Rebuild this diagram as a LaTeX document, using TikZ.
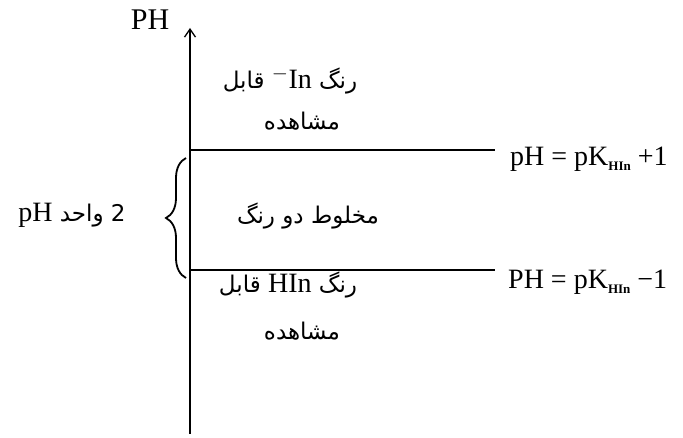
\documentclass[tikz,border=0pt]{standalone}
\usepackage{fontspec}
\setmainfont{Liberation Serif}
\newfontfamily\farsi[Script=Arabic]{DejaVu Sans}
\TeXXeTstate=1
\usetikzlibrary{arrows.meta,decorations.pathreplacing}

\newcommand{\lat}[1]{{\rmfamily\fontsize{28}{30}\selectfont #1}}
\newcommand{\hin}{\raisebox{-0.4ex}{\fontsize{13}{13}\selectfont\bfseries HIn}}

\begin{document}
\begin{tikzpicture}[x=1pt,y=1pt,
  latin/.style={font=\fontsize{28}{30}\selectfont},
  persian/.style={font=\fontsize{23}{26}\selectfont\farsi},
  level/.style={line width=1.3pt}]
\useasboundingbox (0,0) rectangle (683,438);

% ── Axis ──
\coordinate (axbot) at (190,4);
\coordinate (axtop) at (190,410);
\draw[line width=1.3pt, -{Straight Barb[length=8pt,width=11pt]}] (axbot) -- (axtop);
\node[font=\fontsize{30}{32}\selectfont] (phaxis) at (150,418) {PH};

% ── Levels: pK+1 and pK-1 ──
\coordinate (upL) at (190,288);
\coordinate (upR) at (495,288);
\coordinate (loL) at (190,168);
\coordinate (loR) at (495,168);
\draw[level] (upL) -- (upR);
\draw[level] (loL) -- (loR);
\draw[line width=2.4pt] (465,288) -- (upR);
\draw[line width=2.4pt] (462,168) -- (loR);

\node[latin, anchor=west, inner sep=0pt] (upper) at (510,279)
  {pH = pK\hin\ +1};
\node[latin, anchor=west, inner sep=0pt] (lower) at (508,156)
  {PH = pK\hin\ −1};

% ── Regions ──
\node[persian] (basic) at (290,357)
  {\beginR رنگ \lat{In$^{-}$} قابل\endR};
\node[persian] (basicb) at (302,317) {مشاهده};
\node[persian] (mix) at (308,222) {\beginR مخلوط دو رنگ\endR};
\node[persian] (acid) at (288,153)
  {\beginR رنگ \lat{HIn} قابل\endR};
\node[persian] (acidb) at (302,107) {مشاهده};

% ── Brace: 2 pH units ──
\coordinate (brbot) at (186,160);
\coordinate (brtop) at (186,280);
\draw[line width=1.8pt, decorate, decoration={brace, amplitude=20pt}] (brbot) -- (brtop);
\node[persian] (units) at (72,223)
  {\beginR 2 واحد \lat{pH}\endR};

\end{tikzpicture}
\end{document}
